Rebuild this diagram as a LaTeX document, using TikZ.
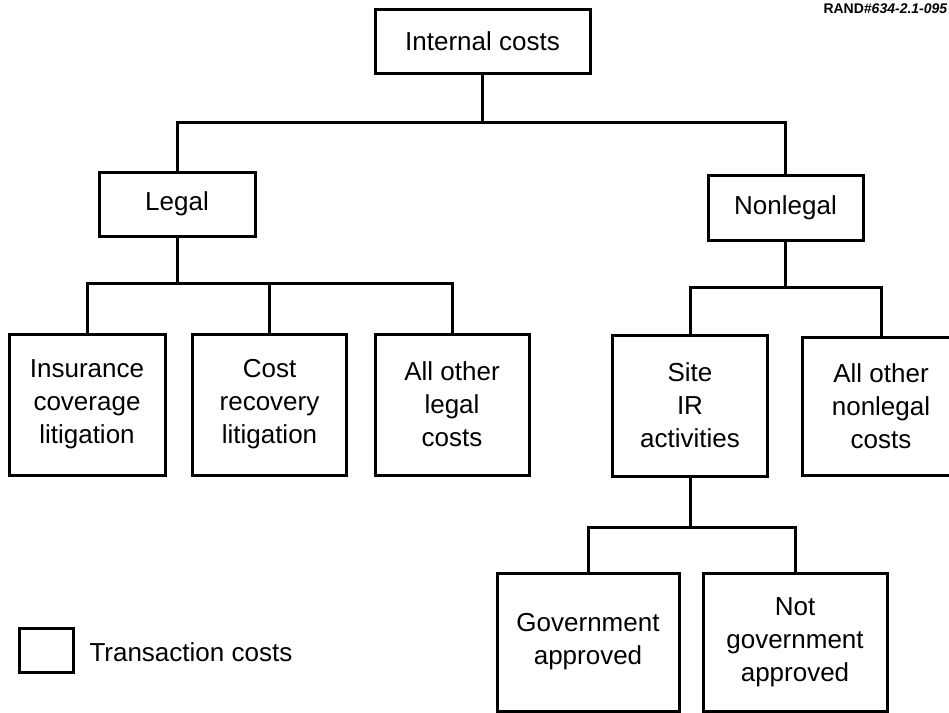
\documentclass[tikz,border=0pt]{standalone}
\usepackage{fontspec}
\setmainfont{Liberation Sans}
\begin{document}
\begin{tikzpicture}[x=1pt,y=-1pt,line width=3pt,
  box/.style={draw,inner sep=0pt,align=center,font=\fontsize{26}{33}\selectfont},
  lbl/.style={inner sep=0pt,font=\fontsize{26}{33}\selectfont}]
\useasboundingbox (0,0) rectangle (949,712);
% boxes
\node[box,minimum width=215,minimum height=64] (top) at (482.5,41) {Internal costs};
\node[box,minimum width=156,minimum height=64] (legal) at (177,204) {\strut Legal};
\node[box,minimum width=155,minimum height=65] (nonlegal) at (785.5,207.5) {\strut Nonlegal};
\node[box,minimum width=156,minimum height=141] (ins) at (87,404.5) {Insurance\\coverage\\litigation};
\node[box,minimum width=154,minimum height=141] (cost) at (269.5,404.5) {Cost\\recovery\\litigation};
\node[box,minimum width=154,minimum height=141] (alllegal) at (452,404.5) {All other\\legal\\costs};
\node[box,minimum width=155,minimum height=141] (site) at (690,405.5) {Site\\IR\\activities};
\node[box,minimum width=158,minimum height=138] (allnon) at (881,406) {All other\\nonlegal\\costs};
\node[box,minimum width=182,minimum height=138] (gov) at (588,642) {Government\\approved};
\node[box,minimum width=184,minimum height=138] (notgov) at (795,642) {Not\\government\\approved};
% legend
\node[draw,inner sep=0pt,minimum width=54,minimum height=44] (leg) at (46,650) {};
\node[lbl,anchor=west] (legt) at (88,652) {Transaction costs};
% figure id
\node[inner sep=0pt,anchor=west,font=\fontsize{14}{14}\selectfont\bfseries] (rand) at (822,9) {RAND\textit{\#634-2.1-095}};
% connector levels
\coordinate (y1) at (0,122);
\coordinate (y2) at (0,283);
\coordinate (y3) at (0,287);
\coordinate (y4) at (0,527);
\coordinate (j1) at (top.south |- y1);
\coordinate (j2) at (legal.south |- y2);
\coordinate (j3) at (nonlegal.south |- y3);
\coordinate (j4) at (site.south |- y4);
% connectors
\draw (top.south) -- (j1);
\draw (legal.north) |- (j1) -| (nonlegal.north);
\draw (legal.south) -- (j2);
\draw (ins.north) |- (j2) -| (alllegal.north);
\draw (cost.north) -- (cost.north |- j2);
\draw (nonlegal.south) -- (j3);
\draw (site.north) |- (j3) -| (allnon.north);
\draw (site.south) -- (j4);
\draw (gov.north) |- (j4) -| (notgov.north);
\end{tikzpicture}
\end{document}
